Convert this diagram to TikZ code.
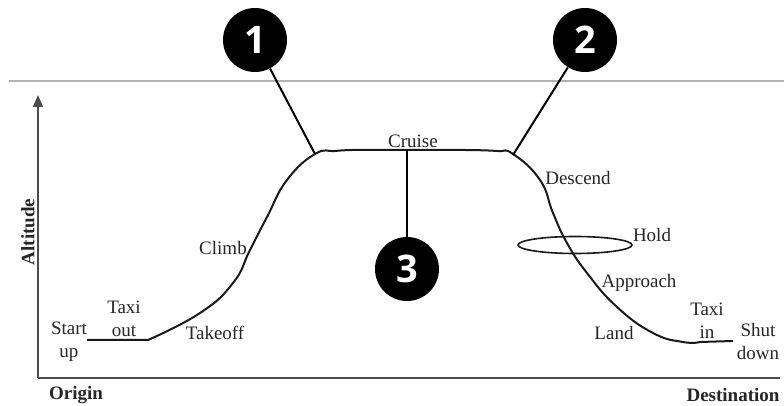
\documentclass[tikz,border=0pt]{standalone}
\usepackage{fontspec}
\setmainfont{Liberation Serif}
\newfontfamily\numfont{Open Sans}
\usepackage{tikz}
\usetikzlibrary{arrows.meta}

\tikzset{
  phase/.style={text=black!85, align=center, inner sep=0pt,
    font=\fontsize{9.5}{11.5}\selectfont},
  axislbl/.style={text=black!85, inner sep=0pt,
    font=\fontsize{9.5}{11.5}\selectfont\bfseries},
  marker/.style={circle, fill=black, minimum size=32pt, inner sep=0pt,
    text=white, font=\numfont\fontsize{19}{19}\selectfont\bfseries},
  leader/.style={line width=1pt, black},
  flight/.style={line width=1pt, black!90},
  axisline/.style={line width=0.8pt, black!70}
}

\begin{document}
\begin{tikzpicture}[x=0.5pt, y=-0.5pt]

  \useasboundingbox (0,0) rectangle (784,406);

  \newcommand\YG{340}
  \newcommand\YC{150}

  % separator and axes
  \draw[gray!60, line width=0.6pt] (9,81) -- (784,81);
  \draw[axisline, -{Triangle[length=6pt, width=5pt]}] (38,378) -- (38,95);
  \draw[axisline] (38,378) -- (780,378);

  \node[axislbl, rotate=90] (alt) at (28,232) {Altitude};
  \node[axislbl] (orig) at (76,395) {Origin};
  \node[axislbl] (dest) at (733,395) {Destination};

  % flight profile
  \draw[flight] (87,\YG) -- (148,\YG)
    plot[smooth, tension=0.8] coordinates {(148,\YG) (200,313) (233,283)
      (250,250) (267,217) (287,180) (315,154) (335,151) (352,150)}
    -- (465,\YC)
    plot[smooth, tension=0.8] coordinates {(465,\YC) (497,151) (513,154)
      (540,180) (553,213) (567,243) (587,273) (617,307) (653,333)
      (683,342) (700,342)}
    -- (733,341);

  % holding pattern
  \draw[line width=0.8pt, black!90] (575,245) ellipse [x radius=57, y radius=8.5];

  \coordinate (toc) at (315,154);
  \coordinate (tod) at (513,155);
  \coordinate (crz) at (407,150);

  \node[phase] (startup) at (69,342) {Start\\up};
  \node[phase] (taxiout) at (124,319) {Taxi\\out};
  \node[phase] (takeoff) at (215,333) {Takeoff};
  \node[phase] (climb) at (223,248) {Climb};
  \node[phase] (cruise) at (413,141) {Cruise};
  \node[phase] (descend) at (578,178) {Descend};
  \node[phase] (hold) at (652,235) {Hold};
  \node[phase] (approach) at (639,283) {Approach};
  \node[phase] (land) at (614,333) {Land};
  \node[phase] (taxiin) at (707,321) {Taxi\\in};
  \node[phase] (shutdown) at (758,342) {Shut\\down};

  % numbered markers
  \node[marker] (c1) at (255,40) {1};
  \node[marker] (c2) at (585,40) {2};
  \node[marker] (c3) at (407,269) {3};

  \draw[leader] (c1) -- (toc);
  \draw[leader] (c2) -- (tod);
  \draw[leader] (c3) -- (crz);

\end{tikzpicture}
\end{document}
